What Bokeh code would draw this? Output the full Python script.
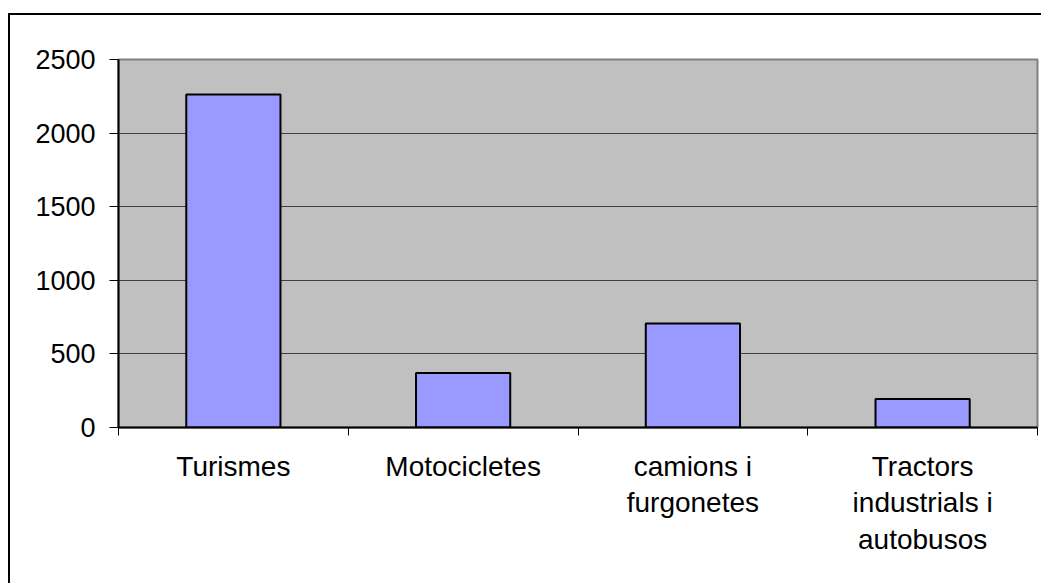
from bokeh.plotting import figure
from bokeh.models import Range1d, FixedTicker, ColumnDataSource
from bokeh.embed import file_html
from bokeh.resources import INLINE

categories = ["Turismes", "Motocicletes", "camions i\nfurgonetes", "Tractors\nindustrials i\nautobusos"]
values = [2262, 370, 707, 193]
y_ticks = [0, 500, 1000, 1500, 2000, 2500]

xs = [i + 0.5 for i in range(len(categories))]
src = ColumnDataSource(dict(x=xs, top=values))

p = figure(width=1033, height=570, output_backend="svg", toolbar_location=None,
           x_range=Range1d(0, len(categories)), y_range=Range1d(0, 2500),
           min_border_left=108, min_border_top=44, min_border_right=6, min_border_bottom=158)
p.styles = {"border-left": "2px solid black", "border-top": "2px solid black",
            "margin-top": "13px", "margin-left": "8px"}

p.background_fill_color = "#C0C0C0"
p.border_fill_color = "white"
p.outline_line_color = "#808080"
p.outline_line_width = 2

p.vbar(x="x", top="top", width=0.41, bottom=0, source=src,
       fill_color="#9999FF", line_color="black", line_width=2)

p.xgrid.visible = False
p.ygrid.ticker = FixedTicker(ticks=y_ticks)
p.ygrid.grid_line_color = "#404040"
p.ygrid.grid_line_width = 1

font = "Liberation Sans"
ya = p.yaxis[0]
ya.ticker = FixedTicker(ticks=y_ticks)
ya.axis_line_color = "black"
ya.axis_line_width = 2
ya.major_tick_out = 9
ya.major_tick_in = 0
ya.major_tick_line_color = "black"
ya.minor_tick_line_color = None
ya.major_label_standoff = 14
ya.major_label_text_font = font
ya.major_label_text_font_size = "27px"
ya.major_label_text_color = "black"

xa = p.xaxis[0]
xa.ticker = FixedTicker(ticks=xs, minor_ticks=list(range(len(categories) + 1)))
xa.major_label_overrides = {x: c for x, c in zip(xs, categories)}
xa.axis_line_color = "black"
xa.axis_line_width = 2
xa.major_tick_out = 0
xa.major_tick_in = 0
xa.minor_tick_out = 8
xa.minor_tick_in = 0
xa.minor_tick_line_color = "black"
xa.major_label_standoff = 15
xa.major_label_text_font = font
xa.major_label_text_font_size = "28px"
xa.major_label_text_color = "black"
xa.major_label_text_line_height = 1.18

open("out.html", "w").write(file_html(p, INLINE))
